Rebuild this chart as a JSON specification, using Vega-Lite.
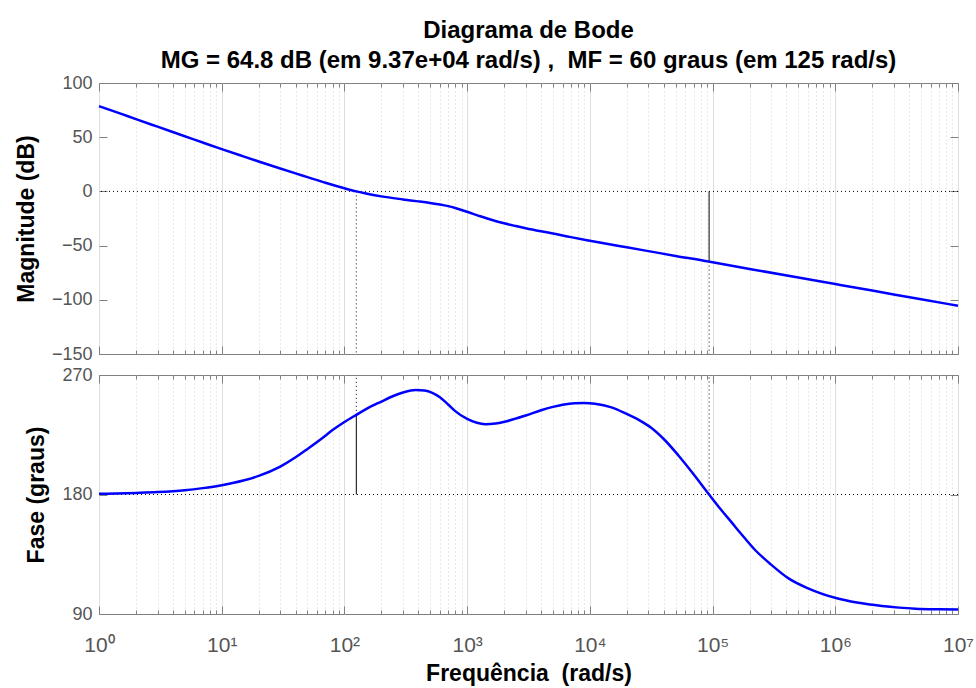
{
  "$schema": "https://vega.github.io/schema/vega-lite/v6.json",
  "padding": {"left": 14, "top": 18, "right": 10, "bottom": 0},
  "background": "white",
  "title": {
    "text": ["Diagrama de Bode", "MG = 64.8 dB (em 9.37e+04 rad/s) ,\u00a0 MF = 60 graus (em 125 rad/s)"],
    "font": "Liberation Sans", "fontSize": 24, "fontWeight": "bold", "color": "black",
    "anchor": "middle", "frame": "group", "lineHeight": 30, "offset": 1
  },
  "datasets": {
    "mag": [
      {"w": 1, "db": 78.7}, {"w": 1.5, "db": 71.7}, {"w": 2, "db": 66.7}, {"w": 3, "db": 59.7},
      {"w": 5, "db": 50.9}, {"w": 7, "db": 45.1}, {"w": 10, "db": 39.0}, {"w": 15, "db": 32.3},
      {"w": 20, "db": 27.6}, {"w": 30, "db": 21.1}, {"w": 40, "db": 16.6}, {"w": 50, "db": 13.2},
      {"w": 70, "db": 8.0}, {"w": 100, "db": 2.9}, {"w": 125, "db": 0.0}, {"w": 150, "db": -2.0},
      {"w": 200, "db": -4.6}, {"w": 300, "db": -7.4}, {"w": 400, "db": -9.2}, {"w": 500, "db": -10.7},
      {"w": 600, "db": -12.1}, {"w": 700, "db": -13.6}, {"w": 800, "db": -15.3}, {"w": 1000, "db": -18.8},
      {"w": 1300, "db": -23.2}, {"w": 1600, "db": -26.4}, {"w": 2000, "db": -29.4}, {"w": 2500, "db": -32.0},
      {"w": 3000, "db": -34.0}, {"w": 4000, "db": -36.8}, {"w": 5000, "db": -38.8}, {"w": 7000, "db": -42.2},
      {"w": 10000, "db": -45.5}, {"w": 20000, "db": -51.6}, {"w": 30000, "db": -55.1}, {"w": 50000, "db": -59.5},
      {"w": 93700, "db": -64.8}, {"w": 100000, "db": -65.4}, {"w": 200000, "db": -71.5}, {"w": 500000, "db": -79.5},
      {"w": 1000000, "db": -85.5}, {"w": 2000000, "db": -91.5}, {"w": 5000000, "db": -99.5}, {"w": 10000000, "db": -105.5}
    ],
    "phase": [
      {"w": 1, "deg": 180.5}, {"w": 2, "deg": 181.2}, {"w": 3, "deg": 181.8}, {"w": 5, "deg": 183.2},
      {"w": 7, "deg": 184.8}, {"w": 10, "deg": 187.0}, {"w": 15, "deg": 190.5}, {"w": 20, "deg": 194.0},
      {"w": 30, "deg": 201.0}, {"w": 40, "deg": 208.0}, {"w": 50, "deg": 214.3}, {"w": 65, "deg": 222.0},
      {"w": 80, "deg": 228.5}, {"w": 100, "deg": 234.6}, {"w": 125, "deg": 240.0}, {"w": 150, "deg": 244.3},
      {"w": 200, "deg": 250.0}, {"w": 250, "deg": 254.2}, {"w": 300, "deg": 256.8}, {"w": 380, "deg": 258.7},
      {"w": 450, "deg": 258.3}, {"w": 520, "deg": 256.6}, {"w": 600, "deg": 253.3}, {"w": 700, "deg": 247.8},
      {"w": 800, "deg": 242.8}, {"w": 1000, "deg": 236.9}, {"w": 1200, "deg": 234.0}, {"w": 1400, "deg": 233.0},
      {"w": 1700, "deg": 233.4}, {"w": 2100, "deg": 235.2}, {"w": 3000, "deg": 239.5}, {"w": 4000, "deg": 243.5},
      {"w": 5000, "deg": 246.0}, {"w": 6000, "deg": 247.6}, {"w": 7500, "deg": 248.8}, {"w": 9000, "deg": 249.0},
      {"w": 11000, "deg": 248.4}, {"w": 15000, "deg": 245.6}, {"w": 19200, "deg": 241.4}, {"w": 25000, "deg": 236.2},
      {"w": 31600, "deg": 230.3}, {"w": 40000, "deg": 221.8}, {"w": 52500, "deg": 209.6}, {"w": 70000, "deg": 195.3},
      {"w": 93700, "deg": 180.0}, {"w": 120000, "deg": 167.4}, {"w": 143000, "deg": 159.0}, {"w": 170000, "deg": 150.6},
      {"w": 222000, "deg": 138.2}, {"w": 300000, "deg": 127.2}, {"w": 416000, "deg": 116.8}, {"w": 600000, "deg": 109.3},
      {"w": 1030000, "deg": 101.8}, {"w": 1500000, "deg": 98.6}, {"w": 2400000, "deg": 96.0}, {"w": 3300000, "deg": 94.8},
      {"w": 4500000, "deg": 94.0}, {"w": 7000000, "deg": 93.5}, {"w": 10000000, "deg": 93.3}
    ],
    "guides": [
      {"panel": "mag", "kind": "dotted", "w": 125, "a": 0, "b": -150},
      {"panel": "mag", "kind": "solid", "w": 93700, "a": 0, "b": -64.8},
      {"panel": "mag", "kind": "dotted", "w": 93700, "a": -64.8, "b": -150},
      {"panel": "phase", "kind": "solid", "w": 125, "a": 180, "b": 240},
      {"panel": "phase", "kind": "dotted", "w": 125, "a": 240, "b": 270},
      {"panel": "phase", "kind": "dotted", "w": 93700, "a": 180, "b": 270}
    ],
    "hlines": [
      {"panel": "mag", "v": 0},
      {"panel": "phase", "v": 180}
    ]
  },
  "vconcat": [
    {
      "width": 859, "height": 271,
      "layer": [
        {
          "data": {"name": "hlines"},
          "transform": [{"filter": "datum.panel == 'mag'"}],
          "mark": {"type": "rule", "color": "black", "strokeWidth": 1, "strokeDash": [1, 3]},
          "encoding": {"y": {"field": "v", "type": "quantitative", "axis": null}}
        },
        {
          "data": {"name": "guides"},
          "transform": [{"filter": "datum.panel == 'mag' && datum.kind == 'dotted'"}],
          "mark": {"type": "rule", "color": "black", "strokeWidth": 1, "strokeDash": [1, 3]},
          "encoding": {
            "x": {"field": "w", "type": "quantitative", "axis": null},
            "y": {"field": "a", "type": "quantitative", "axis": null},
            "y2": {"field": "b"}
          }
        },
        {
          "data": {"name": "guides"},
          "transform": [{"filter": "datum.panel == 'mag' && datum.kind == 'solid'"}],
          "mark": {"type": "rule", "color": "black", "strokeWidth": 1},
          "encoding": {
            "x": {"field": "w", "type": "quantitative",
              "axis": {"orient": "top", "labels": false, "grid": false, "domain": false, "title": null,
                "values": [1,2,3,4,5,6,7,8,9,10,20,30,40,50,60,70,80,90,100,200,300,400,500,600,700,800,900,1000,2000,3000,4000,5000,6000,7000,8000,9000,10000,20000,30000,40000,50000,60000,70000,80000,90000,100000,200000,300000,400000,500000,600000,700000,800000,900000,1000000,2000000,3000000,4000000,5000000,6000000,7000000,8000000,9000000,10000000],
                "tickSize": {"condition": {"test": "abs(log(datum.value)/LN10 - round(log(datum.value)/LN10)) < 0.001", "value": -8}, "value": -4}}},
            "y": {"field": "a", "type": "quantitative",
              "axis": {"orient": "right", "labels": false, "grid": false, "domain": false, "title": null,
                "values": [-150, -100, -50, 0, 50, 100], "tickSize": -8}},
            "y2": {"field": "b"}
          }
        },
        {
          "data": {"name": "mag"},
          "mark": {"type": "line", "color": "#0000ff", "strokeWidth": 2.5, "interpolate": "monotone"},
          "encoding": {
            "x": {"field": "w", "type": "quantitative",
              "scale": {"type": "log", "domain": [1, 10000000], "nice": false},
              "axis": {"orient": "bottom", "labels": false, "grid": true, "domain": false, "title": null,
                "values": [1,2,3,4,5,6,7,8,9,10,20,30,40,50,60,70,80,90,100,200,300,400,500,600,700,800,900,1000,2000,3000,4000,5000,6000,7000,8000,9000,10000,20000,30000,40000,50000,60000,70000,80000,90000,100000,200000,300000,400000,500000,600000,700000,800000,900000,1000000,2000000,3000000,4000000,5000000,6000000,7000000,8000000,9000000,10000000],
                "gridDash": {"condition": {"test": "abs(log(datum.value)/LN10 - round(log(datum.value)/LN10)) < 0.001", "value": []}, "value": [1, 3]},
                "gridColor": {"condition": {"test": "abs(log(datum.value)/LN10 - round(log(datum.value)/LN10)) < 0.001", "value": "#dedede"}, "value": "#d2d2d2"},
                "tickSize": {"condition": {"test": "abs(log(datum.value)/LN10 - round(log(datum.value)/LN10)) < 0.001", "value": -8}, "value": -4}}},
            "y": {"field": "db", "type": "quantitative",
              "scale": {"domain": [-150, 100], "nice": false, "zero": false},
              "axis": {"orient": "left", "title": "Magnitude (dB)", "grid": false, "domain": false,
                "values": [-150, -100, -50, 0, 50, 100], "tickSize": -8, "labelPadding": 15, "titlePadding": 13}}
          }
        }
      ],
      "resolve": {"axis": {"x": "independent", "y": "independent"}}
    },
    {
      "width": 859, "height": 239,
      "layer": [
        {
          "data": {"name": "hlines"},
          "transform": [{"filter": "datum.panel == 'phase'"}],
          "mark": {"type": "rule", "color": "black", "strokeWidth": 1, "strokeDash": [1, 3]},
          "encoding": {"y": {"field": "v", "type": "quantitative", "axis": null}}
        },
        {
          "data": {"name": "guides"},
          "transform": [{"filter": "datum.panel == 'phase' && datum.kind == 'dotted'"}],
          "mark": {"type": "rule", "color": "black", "strokeWidth": 1, "strokeDash": [1, 3]},
          "encoding": {
            "x": {"field": "w", "type": "quantitative", "axis": null},
            "y": {"field": "a", "type": "quantitative", "axis": null},
            "y2": {"field": "b"}
          }
        },
        {
          "data": {"name": "guides"},
          "transform": [{"filter": "datum.panel == 'phase' && datum.kind == 'solid'"}],
          "mark": {"type": "rule", "color": "black", "strokeWidth": 1},
          "encoding": {
            "x": {"field": "w", "type": "quantitative",
              "axis": {"orient": "top", "labels": false, "grid": false, "domain": false, "title": null,
                "values": [1,2,3,4,5,6,7,8,9,10,20,30,40,50,60,70,80,90,100,200,300,400,500,600,700,800,900,1000,2000,3000,4000,5000,6000,7000,8000,9000,10000,20000,30000,40000,50000,60000,70000,80000,90000,100000,200000,300000,400000,500000,600000,700000,800000,900000,1000000,2000000,3000000,4000000,5000000,6000000,7000000,8000000,9000000,10000000],
                "tickSize": {"condition": {"test": "abs(log(datum.value)/LN10 - round(log(datum.value)/LN10)) < 0.001", "value": -8}, "value": -4}}},
            "y": {"field": "a", "type": "quantitative",
              "axis": {"orient": "right", "labels": false, "grid": false, "domain": false, "title": null,
                "values": [90, 180, 270], "tickSize": -8}},
            "y2": {"field": "b"}
          }
        },
        {
          "data": {"name": "phase"},
          "mark": {"type": "line", "color": "#0000ff", "strokeWidth": 2.5, "interpolate": "monotone"},
          "encoding": {
            "x": {"field": "w", "type": "quantitative",
              "scale": {"type": "log", "domain": [1, 10000000], "nice": false},
              "axis": {"orient": "bottom", "title": "Frequência\u00a0 (rad/s)", "grid": true, "domain": false,
                "values": [1,2,3,4,5,6,7,8,9,10,20,30,40,50,60,70,80,90,100,200,300,400,500,600,700,800,900,1000,2000,3000,4000,5000,6000,7000,8000,9000,10000,20000,30000,40000,50000,60000,70000,80000,90000,100000,200000,300000,400000,500000,600000,700000,800000,900000,1000000,2000000,3000000,4000000,5000000,6000000,7000000,8000000,9000000,10000000],
                "labelExpr": "abs(log(datum.value)/LN10 - round(log(datum.value)/LN10)) < 0.001 ? '10' + ['⁰','¹','²','³','⁴','⁵','⁶','⁷'][round(log(datum.value)/LN10)] : ''",
                "labelOverlap": false, "labelFlush": false, "labelBound": false, "labelFontSize": 21,
                "gridDash": {"condition": {"test": "abs(log(datum.value)/LN10 - round(log(datum.value)/LN10)) < 0.001", "value": []}, "value": [1, 3]},
                "gridColor": {"condition": {"test": "abs(log(datum.value)/LN10 - round(log(datum.value)/LN10)) < 0.001", "value": "#dedede"}, "value": "#d2d2d2"},
                "tickSize": {"condition": {"test": "abs(log(datum.value)/LN10 - round(log(datum.value)/LN10)) < 0.001", "value": -8}, "value": -4},
                "labelPadding": 28, "titlePadding": 3}},
            "y": {"field": "deg", "type": "quantitative",
              "scale": {"domain": [90, 270], "nice": false, "zero": false},
              "axis": {"orient": "left", "title": "Fase (graus)", "grid": false, "domain": false,
                "values": [90, 180, 270], "tickSize": -8, "labelPadding": 15, "titlePadding": 13}}
          }
        }
      ],
      "resolve": {"axis": {"x": "independent", "y": "independent"}}
    }
  ],
  "spacing": 21,
  "bounds": "flush",
  "config": {
    "view": {"stroke": "#808080", "strokeWidth": 1},
    "axis": {
      "labelFont": "Liberation Sans", "labelFontSize": 18, "labelColor": "#555555",
      "titleFont": "Liberation Sans", "titleFontSize": 23, "titleFontWeight": "bold", "titleColor": "black",
      "tickColor": "#808080", "tickWidth": 1
    }
  }
}
